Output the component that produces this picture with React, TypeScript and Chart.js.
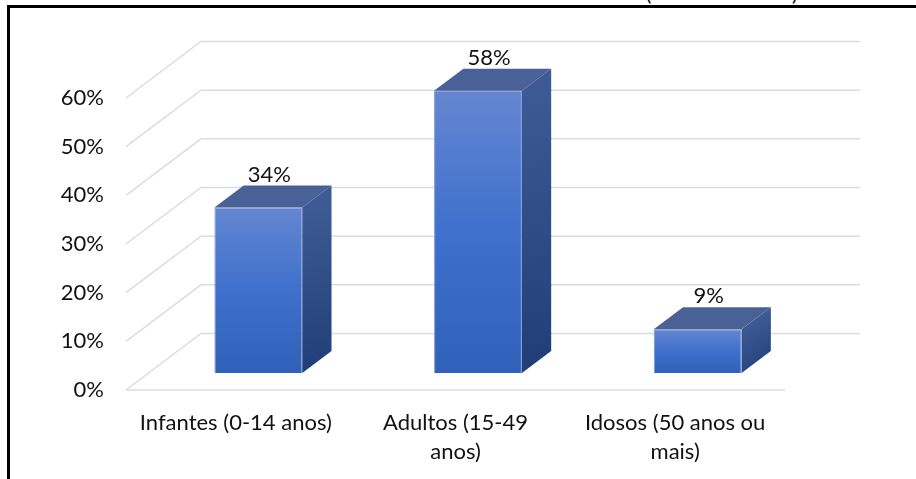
import React, { useEffect, useRef } from "react";
import { Chart, registerables } from "chart.js";

Chart.register(...registerables);

// Population share by age group
const categories: string[][] = [
  ["Infantes (0-14 anos)"],
  ["Adultos (15-49", "anos)"],
  ["Idosos (50 anos ou", "mais)"],
];
const shares: number[] = [34, 58, 9];
const yMin = 0;
const yMax = 60;
const yStep = 10;

const FONT = "Lato, 'Open Sans', sans-serif";
const FONT_SIZE = 22;
const TEXT = "#111111";
const GRID = "#d9dce3";

// Depth of the floor / back wall, and where the prisms sit inside it
const DEPTH_X = 75;
const DEPTH_Y = -56.5;
const BAR_NEAR = 0.3;
const BAR_FAR = 0.69;

const frontFill = (c: any) => {
  const chart = c.chart;
  const ys = chart && chart.scales ? chart.scales.y : null;
  if (c.type !== "data" || !ys) return "#3e70cc";
  const top = ys.getPixelForValue(c.raw);
  const bottom = ys.getPixelForValue(yMin);
  if (!Number.isFinite(top) || !Number.isFinite(bottom) || top === bottom) return "#3e70cc";
  const g = chart.ctx.createLinearGradient(0, top, 0, bottom);
  g.addColorStop(0, "#6586d0");
  g.addColorStop(0.5, "#3e70cc");
  g.addColorStop(1, "#3061b9");
  return g;
};

const prism3d = {
  id: "prism3d",
  beforeDatasetsDraw(chart: any) {
    const { ctx, chartArea, scales } = chart;
    const y = scales.y;
    const { left, right } = chartArea;
    ctx.save();
    ctx.strokeStyle = GRID;
    ctx.lineWidth = 1.5;
    ctx.lineCap = "butt";
    for (const t of y.ticks) {
      const py = y.getPixelForValue(t.value);
      ctx.beginPath();
      ctx.moveTo(left, py);
      ctx.lineTo(left + DEPTH_X, py + DEPTH_Y);
      ctx.lineTo(right + DEPTH_X, py + DEPTH_Y);
      ctx.stroke();
    }
    const p0 = y.getPixelForValue(yMin);
    ctx.beginPath();
    ctx.moveTo(left, p0);
    ctx.lineTo(right, p0);
    ctx.stroke();
    ctx.restore();

    // bars are placed part-way into the depth of the floor
    ctx.save();
    ctx.translate(DEPTH_X * BAR_NEAR, DEPTH_Y * BAR_NEAR);
  },
  afterDatasetsDraw(chart: any) {
    const { ctx } = chart;
    const meta = chart.getDatasetMeta(0);
    const bdx = DEPTH_X * (BAR_FAR - BAR_NEAR);
    const bdy = DEPTH_Y * (BAR_FAR - BAR_NEAR);
    meta.data.forEach((bar: any, i: number) => {
      const { x, y, base, width } = bar.getProps(["x", "y", "base", "width"], true);
      const l = x - width / 2;
      const r = x + width / 2;

      // top face
      ctx.beginPath();
      ctx.moveTo(l, y);
      ctx.lineTo(l + bdx, y + bdy);
      ctx.lineTo(r + bdx, y + bdy);
      ctx.lineTo(r, y);
      ctx.closePath();
      ctx.fillStyle = "#4a6197";
      ctx.fill();

      // side face
      const g = ctx.createLinearGradient(r, y, r + bdx, base);
      g.addColorStop(0, "#3e5a95");
      g.addColorStop(1, "#213d78");
      ctx.beginPath();
      ctx.moveTo(r, y);
      ctx.lineTo(r + bdx, y + bdy);
      ctx.lineTo(r + bdx, base + bdy);
      ctx.lineTo(r, base);
      ctx.closePath();
      ctx.fillStyle = g;
      ctx.fill();

      // value label
      ctx.fillStyle = TEXT;
      ctx.font = `${FONT_SIZE}px ${FONT}`;
      ctx.textAlign = "center";
      ctx.textBaseline = "middle";
      ctx.fillText(`${shares[i]}%`, x + 11, y + bdy - 11);
    });
    ctx.restore();
  },
};

export default function App() {
  const canvasRef = useRef<HTMLCanvasElement | null>(null);

  useEffect(() => {
    const canvas = canvasRef.current;
    if (!canvas) return;
    const chart = new Chart(canvas, {
      type: "bar",
      data: {
        labels: categories,
        datasets: [
          {
            data: shares,
            clip: false,
            categoryPercentage: 1,
            barPercentage: 0.4,
            borderWidth: 1,
            borderColor: "#7194dc",
            backgroundColor: frontFill,
          } as any,
        ],
      },
      options: {
        responsive: false,
        animation: false,
        layout: { padding: { left: 0, top: 98, right: 131, bottom: 0 } },
        plugins: {
          legend: { display: false },
          tooltip: { enabled: false },
        },
        scales: {
          x: {
            grid: { display: false, drawTicks: false },
            border: { display: false },
            ticks: {
              color: TEXT,
              padding: 18,
              maxRotation: 0,
              autoSkip: false,
              font: { family: FONT, size: FONT_SIZE, lineHeight: "29px" } as any,
            },
            afterFit(scale: any) {
              scale.height = 89;
            },
          },
          y: {
            min: yMin,
            max: yMax,
            grid: { display: false, drawTicks: false },
            border: { display: false },
            ticks: {
              stepSize: yStep,
              color: TEXT,
              padding: 22,
              font: { family: FONT, size: FONT_SIZE },
              callback: (v: any) => `${v}%`,
            },
            afterFit(scale: any) {
              scale.width = 126;
            },
          },
        },
      },
      plugins: [prism3d],
    });
    return () => chart.destroy();
  }, []);

  return (
    <div style={{ position: "fixed", left: 0, top: 0, width: 916, height: 479, overflow: "hidden", background: "#fff" }}>
      <div
        style={{
          position: "absolute",
          left: 7,
          top: 5,
          width: 940,
          height: 500,
          borderLeft: "3px solid #000",
          borderTop: "3px solid #000",
        }}
      />
      <div style={{ position: "absolute", top: -17, left: 646, font: `20px/20px ${FONT}`, color: "#000" }}>(</div>
      <div style={{ position: "absolute", top: -17, left: 792, font: `20px/20px ${FONT}`, color: "#000" }}>)</div>
      <canvas
        ref={canvasRef}
        width={916}
        height={479}
        style={{ position: "absolute", left: 0, top: 0, width: 916, height: 479 }}
      />
    </div>
  );
}
